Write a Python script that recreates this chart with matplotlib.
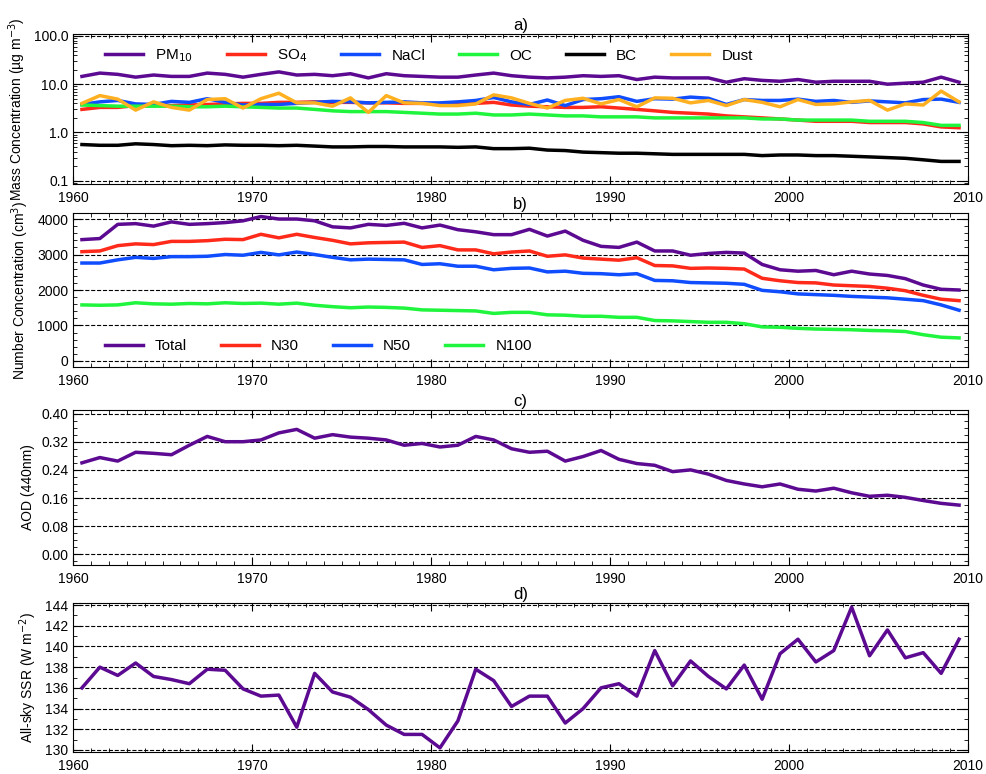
import numpy as np
import matplotlib
matplotlib.use("Agg")
import matplotlib.pyplot as plt
from matplotlib.ticker import MultipleLocator, FixedLocator, LogLocator, NullFormatter

plt.rcParams['font.family'] = ['Liberation Sans', 'DejaVu Sans']

years = np.arange(1960.5, 2010.0, 1.0)

pm10 = [14.5,17,16,14,15.5,14.5,14.5,17,16,14,16,18,15.5,16,15,16.5,13.5,16.5,15,14.5,14,14,15.5,17,15,14,13.5,14,15,14.5,15,12.5,14,13.5,13.5,13.5,11,13,12,11.5,12.5,11,11.5,11.5,11.5,10,10.5,11,14,11]
so4 = [3.0,3.3,3.3,3.6,3.6,3.6,3.7,3.8,3.9,4.0,4.0,4.2,4.2,4.3,4.2,4.2,4.1,4.1,4.0,4.0,3.9,3.9,4.0,4.2,3.7,3.5,3.4,3.3,3.3,3.4,3.2,3.0,2.8,2.6,2.5,2.4,2.2,2.1,2.0,1.9,1.8,1.7,1.7,1.7,1.6,1.6,1.6,1.5,1.3,1.25]
nacl = [3.8,4.3,4.6,3.9,3.8,4.4,4.2,5.0,4.2,3.7,3.8,3.8,4.0,4.2,4.4,4.3,4.1,4.2,4.3,4.1,4.1,4.3,4.6,5.3,4.3,3.8,4.7,3.6,4.8,5.0,5.5,4.4,5.0,4.9,5.4,5.1,3.8,4.8,4.6,4.6,4.9,4.4,4.6,4.2,4.5,4.3,4.1,4.8,4.9,4.2]
oc = [3.7,3.6,3.5,3.5,3.5,3.5,3.4,3.4,3.5,3.4,3.3,3.2,3.2,3.0,2.8,2.7,2.7,2.7,2.6,2.5,2.4,2.4,2.5,2.3,2.3,2.4,2.3,2.2,2.2,2.1,2.1,2.1,2.0,2.0,2.0,2.0,2.0,2.0,1.9,1.9,1.8,1.8,1.8,1.8,1.7,1.7,1.7,1.6,1.4,1.4]
bc = [0.56,0.54,0.54,0.58,0.56,0.53,0.54,0.53,0.55,0.54,0.54,0.53,0.54,0.52,0.5,0.5,0.51,0.51,0.5,0.5,0.5,0.49,0.5,0.46,0.46,0.47,0.43,0.42,0.39,0.38,0.37,0.37,0.36,0.35,0.35,0.35,0.35,0.35,0.33,0.34,0.34,0.33,0.33,0.32,0.31,0.3,0.29,0.27,0.25,0.25]
dust = [4.0,5.8,4.9,2.9,4.3,3.3,2.9,4.8,5.0,3.2,5.0,6.5,4.1,4.1,3.5,5.2,2.6,5.8,4.1,4.0,3.6,3.6,3.9,6.0,5.2,4.0,3.2,4.6,5.1,3.9,4.8,3.4,5.2,5.1,4.1,4.6,3.6,4.8,4.2,3.4,4.8,3.8,3.9,4.3,4.6,2.9,3.9,3.7,7.2,4.3]

total = [3420,3450,3850,3870,3800,3920,3850,3870,3900,3950,4070,4000,4000,3950,3780,3750,3850,3820,3880,3750,3830,3700,3640,3560,3560,3710,3520,3660,3400,3230,3200,3350,3100,3100,2980,3030,3060,3040,2720,2570,2530,2550,2430,2530,2450,2410,2320,2140,2020,2000]
n30 = [3080,3100,3250,3300,3280,3370,3370,3390,3430,3420,3570,3470,3570,3480,3400,3300,3330,3340,3350,3200,3250,3130,3130,3020,3070,3100,2950,2990,2900,2870,2840,2910,2690,2680,2610,2620,2610,2590,2330,2260,2210,2200,2140,2120,2100,2050,1980,1850,1740,1700]
n50 = [2760,2760,2850,2920,2890,2940,2940,2950,3000,2980,3060,2990,3070,3000,2920,2850,2870,2860,2850,2720,2740,2670,2670,2570,2610,2620,2510,2530,2470,2460,2430,2460,2270,2260,2210,2200,2190,2160,1990,1950,1890,1870,1850,1820,1800,1780,1740,1700,1580,1430]
n100 = [1580,1570,1580,1640,1610,1600,1620,1610,1640,1620,1630,1600,1630,1570,1530,1500,1520,1510,1490,1440,1430,1420,1410,1340,1370,1370,1300,1290,1260,1260,1230,1230,1140,1130,1110,1090,1090,1050,960,950,920,900,890,880,860,850,830,740,670,650]

aod = [0.26,0.275,0.265,0.29,0.287,0.283,0.31,0.335,0.32,0.32,0.325,0.345,0.355,0.33,0.34,0.333,0.33,0.325,0.31,0.315,0.305,0.31,0.335,0.325,0.30,0.29,0.293,0.265,0.278,0.295,0.27,0.258,0.253,0.235,0.24,0.228,0.21,0.20,0.192,0.20,0.185,0.18,0.188,0.175,0.165,0.168,0.162,0.153,0.145,0.14]

ssr = [136.0,138.0,137.2,138.4,137.1,136.8,136.4,137.8,137.7,135.9,135.2,135.3,132.2,137.4,135.6,135.1,133.9,132.4,131.5,131.5,130.2,132.8,137.8,136.7,134.2,135.2,135.2,132.6,134.0,136.0,136.4,135.2,139.6,136.2,138.6,137.1,135.9,138.2,134.9,139.3,140.7,138.5,139.6,143.8,139.1,141.6,138.9,139.4,137.4,140.7]

PURPLE = '#5c0a91'; RED = '#ff2a1a'; BLUE = '#0f4dff'; GREEN = '#1ef53c'; BLACK = '#000000'; ORANGE = '#ffb020'

fig = plt.figure(figsize=(9.87, 7.74), dpi=100)
H = 774.0
def mk(top, bot):
    return fig.add_axes([73/987, 1 - bot/H, (968-73)/987, (bot-top)/H])
axa = mk(34, 184); axb = mk(213, 367); axc = mk(410, 565); axd = mk(603, 752)

lw = 2.5
for ax in (axa, axb, axc, axd):
    ax.set_xlim(1960, 2010)
    ax.xaxis.set_major_locator(MultipleLocator(10))
    ax.xaxis.set_minor_locator(MultipleLocator(1))
    ax.tick_params(which='both', direction='in', top=True, right=True, labelsize=10)
    ax.tick_params(axis='x', pad=5)
    ax.tick_params(which='major', length=6)
    ax.tick_params(which='minor', length=3)
    ax.yaxis.grid(True, which='major', linestyle='--', color='black', linewidth=0.8)

# a
axa.set_yscale('log')
for d, c, l in [(pm10, PURPLE, 'PM$_{10}$'), (so4, RED, 'SO$_4$'), (nacl, BLUE, 'NaCl'), (oc, GREEN, 'OC'), (bc, BLACK, 'BC'), (dust, ORANGE, 'Dust')]:
    axa.plot(years, d, color=c, lw=lw, label=l)
axa.set_ylim(0.085, 110)
axa.yaxis.set_major_locator(FixedLocator([0.1, 1, 10, 100]))
axa.set_yticklabels(['0.1', '1.0', '10.0', '100.0'])
axa.yaxis.set_minor_locator(LogLocator(subs=np.arange(2, 10)))
axa.yaxis.set_minor_formatter(NullFormatter())
axa.set_ylabel('Mass Concentration (µg m$^{-3}$)', fontsize=10)
axa.legend(loc='upper left', ncol=6, frameon=False, fontsize=11, handlelength=2.5, columnspacing=2.2, bbox_to_anchor=(0.02, 1.0))
axa.set_title('a)', fontsize=12, pad=3)

# b
for d, c, l in [(total, PURPLE, 'Total'), (n30, RED, 'N30'), (n50, BLUE, 'N50'), (n100, GREEN, 'N100')]:
    axb.plot(years, d, color=c, lw=lw, label=l)
axb.set_ylim(-170, 4170)
axb.yaxis.set_major_locator(MultipleLocator(1000))
axb.yaxis.set_minor_locator(MultipleLocator(200))
axb.set_ylabel('Number Concentration (cm$^{3}$)', fontsize=10)
axb.legend(loc='lower left', ncol=4, frameon=False, fontsize=11, handlelength=2.5, columnspacing=2.2, bbox_to_anchor=(0.02, 0.0))
axb.set_title('b)', fontsize=12, pad=3)

# c
axc.plot(years, aod, color=PURPLE, lw=lw)
axc.set_ylim(-0.03, 0.41)
axc.yaxis.set_major_locator(MultipleLocator(0.08))
axc.yaxis.set_minor_locator(MultipleLocator(0.02))
axc.yaxis.set_major_formatter(matplotlib.ticker.FormatStrFormatter('%.2f'))
axc.set_ylabel('AOD (440nm)', fontsize=10)
axc.set_title('c)', fontsize=12, pad=3)

# d
axd.plot(years, ssr, color=PURPLE, lw=lw)
axd.set_ylim(129.8, 144.2)
axd.yaxis.set_major_locator(MultipleLocator(2))
axd.yaxis.set_minor_locator(MultipleLocator(1))
axd.set_ylabel('All-sky SSR (W m$^{-2}$)', fontsize=10)
axd.set_title('d)', fontsize=12, pad=3)

fig.savefig('out.png', dpi=100)
